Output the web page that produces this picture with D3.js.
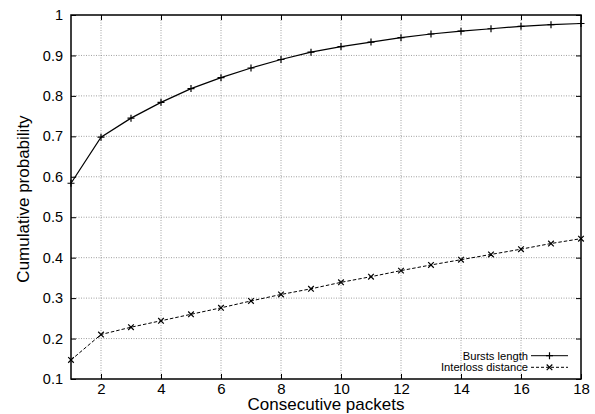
<!DOCTYPE html>
<html>
<head>
<meta charset="utf-8">
<script src="https://cdnjs.cloudflare.com/ajax/libs/d3/7.8.5/d3.min.js"></script>
<style>
  body { margin: 0; background: #fff; }
  text { font-family: "Liberation Sans", Arial, sans-serif; fill: #000; }
</style>
</head>
<body>
<div id="chart"></div>
<script>
const packets = [1, 2, 3, 4, 5, 6, 7, 8, 9, 10, 11, 12, 13, 14, 15, 16, 17, 18];
const burstsLength = [0.584, 0.698, 0.745, 0.784, 0.818, 0.845, 0.869, 0.890, 0.908,
  0.922, 0.933, 0.944, 0.953, 0.960, 0.966, 0.972, 0.976, 0.979];
const interlossDistance = [0.147, 0.210, 0.228, 0.244, 0.260, 0.276, 0.293, 0.309, 0.323,
  0.339, 0.353, 0.368, 0.382, 0.395, 0.408, 0.421, 0.435, 0.447];
const xTicks = [2, 4, 6, 8, 10, 12, 14, 16, 18];
const yTicks = [0.1, 0.2, 0.3, 0.4, 0.5, 0.6, 0.7, 0.8, 0.9, 1];

const W = 595, H = 414;
const margin = { top: 15, right: 14, bottom: 35, left: 71 };
const width = W - margin.left - margin.right;
const height = H - margin.top - margin.bottom;

const svg = d3.select("#chart").append("svg")
  .attr("width", W).attr("height", H);
const g = svg.append("g")
  .attr("transform", "translate(" + margin.left + "," + margin.top + ")");

const x = d3.scaleLinear().domain([1, 18]).range([0, width]);
const y = d3.scaleLinear().domain([0.1, 1]).range([height, 0]);

// grid
g.append("g").selectAll("line").data(xTicks.slice(0, -1)).join("line")
  .attr("x1", d => x(d)).attr("x2", d => x(d))
  .attr("y1", 0).attr("y2", height)
  .attr("stroke", "#888").attr("stroke-width", 0.8).attr("stroke-dasharray", "1,1.5");
g.append("g").selectAll("line").data(yTicks.slice(1, -1)).join("line")
  .attr("x1", 0).attr("x2", width)
  .attr("y1", d => y(d)).attr("y2", d => y(d))
  .attr("stroke", "#888").attr("stroke-width", 0.8).attr("stroke-dasharray", "1,1.5");

// axes with inward ticks
const ax = g.append("g").attr("transform", "translate(0," + height + ")")
  .call(d3.axisBottom(x).tickValues(xTicks).tickSizeInner(-5).tickSizeOuter(0).tickPadding(4));
const ay = g.append("g")
  .call(d3.axisLeft(y).tickValues(yTicks).tickFormat(d => d === 1 ? "1" : d3.format(".1f")(d))
    .tickSizeInner(-5).tickSizeOuter(0).tickPadding(8));
const axTop = g.append("g")
  .call(d3.axisTop(x).tickValues(xTicks).tickSizeInner(-5).tickSizeOuter(0).tickFormat(""));
const ayRight = g.append("g").attr("transform", "translate(" + width + ",0)")
  .call(d3.axisRight(y).tickValues(yTicks).tickSizeInner(-5).tickSizeOuter(0).tickFormat(""));
[ax, ay, axTop, ayRight].forEach(a => {
  a.select(".domain").remove();
  a.selectAll("line").attr("stroke", "#000");
  a.selectAll("text")
    .style("font-family", "'Liberation Sans', Arial, sans-serif");
});
ax.selectAll("text").style("font-size", "15px");
ay.selectAll("text").style("font-size", "14.5px");

g.append("rect").attr("width", width).attr("height", height)
  .attr("fill", "none").attr("stroke", "#000").attr("stroke-width", 1.5);

const line = d3.line().x(d => x(d[0])).y(d => y(d[1]));
const burstPts = packets.map((p, i) => [p, burstsLength[i]]);
const interPts = packets.map((p, i) => [p, interlossDistance[i]]);

g.append("path").datum(burstPts).attr("d", line)
  .attr("fill", "none").attr("stroke", "#000").attr("stroke-width", 1.2);
g.append("path").datum(interPts).attr("d", line)
  .attr("fill", "none").attr("stroke", "#000").attr("stroke-width", 1)
  .attr("stroke-dasharray", "3.5,2");

const s = 3.5;
g.append("g").selectAll("path").data(burstPts).join("path")
  .attr("d", d => `M${x(d[0]) - s},${y(d[1])}h${2 * s}M${x(d[0])},${y(d[1]) - s}v${2 * s}`)
  .attr("stroke", "#000").attr("stroke-width", 1.2);
const t = 2.8;
g.append("g").selectAll("path").data(interPts).join("path")
  .attr("d", d => `M${x(d[0]) - t},${y(d[1]) - t}l${2 * t},${2 * t}M${x(d[0]) - t},${y(d[1]) + t}l${2 * t},${-2 * t}`)
  .attr("stroke", "#000").attr("stroke-width", 1.2);

// legend
const legend = g.append("g");
const legItems = [
  { name: "Bursts length", dash: null, mark: "+" },
  { name: "Interloss distance", dash: "3,2", mark: "x" }
];
legItems.forEach((it, i) => {
  const ly = 355.7 + i * 11.6 - margin.top;
  const lx1 = 531 - margin.left, lx2 = 568 - margin.left, lm = (lx1 + lx2) / 2;
  legend.append("text").attr("x", lx1 - 3).attr("y", ly).attr("dy", "0.35em")
    .attr("text-anchor", "end").style("font-size", "11.2px").text(it.name);
  legend.append("line").attr("x1", lx1).attr("x2", lx2).attr("y1", ly).attr("y2", ly)
    .attr("stroke", "#000").attr("stroke-width", 1).attr("stroke-dasharray", it.dash);
  if (it.mark === "+") {
    legend.append("path").attr("d", `M${lm - s},${ly}h${2 * s}M${lm},${ly - s}v${2 * s}`)
      .attr("stroke", "#000").attr("stroke-width", 1.2);
  } else {
    legend.append("path").attr("d", `M${lm - t},${ly - t}l${2 * t},${2 * t}M${lm - t},${ly + t}l${2 * t},${-2 * t}`)
      .attr("stroke", "#000").attr("stroke-width", 1.2);
  }
});

// axis labels
svg.append("text").attr("x", 326).attr("y", 410)
  .attr("text-anchor", "middle").style("font-size", "17px").text("Consecutive packets");
svg.append("text")
  .attr("transform", "translate(28.5,199) rotate(-90)")
  .attr("text-anchor", "middle").style("font-size", "17px").text("Cumulative probability");
</script>
</body>
</html>
